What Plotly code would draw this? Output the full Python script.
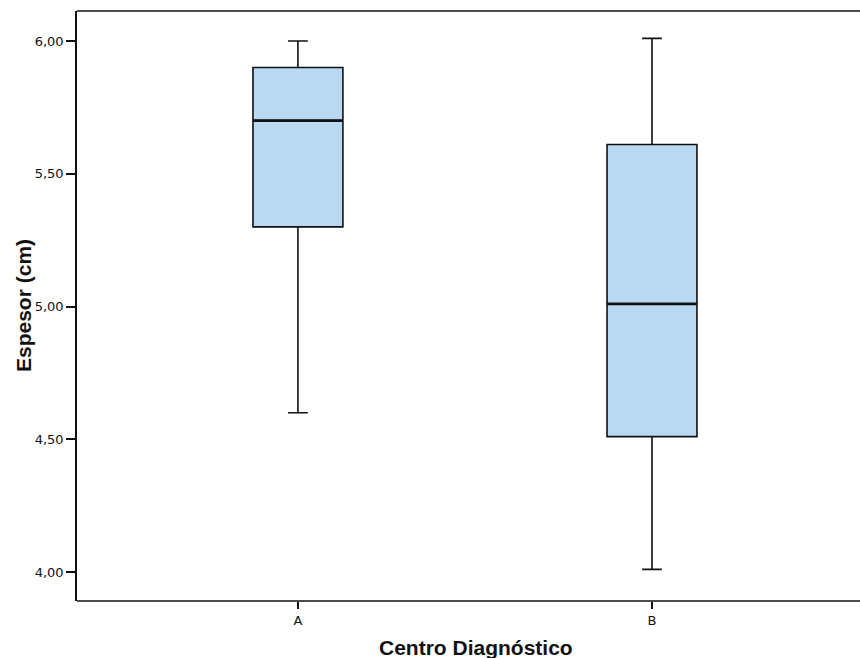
import plotly.graph_objects as go

categories = ["A", "B"]
q_min = [4.60, 4.01]
q1 = [5.30, 4.51]
median = [5.70, 5.01]
q3 = [5.90, 5.61]
q_max = [6.00, 6.01]

y_tickvals = [4.0, 4.5, 5.0, 5.5, 6.0]
y_ticktext = ["4,00", "4,50", "5,00", "5,50", "6,00"]

fig = go.Figure()
fig.add_trace(go.Box(
    x=categories,
    lowerfence=q_min,
    q1=q1,
    median=median,
    q3=q3,
    upperfence=q_max,
    fillcolor="#b9d8f1",
    line=dict(color="#111111", width=1.6),
    width=0.254,
    whiskerwidth=0.22,
    boxpoints=False,
    showlegend=False,
    hoverinfo="skip",
))
# thicker median line (zero-height box drawn at the median values)
fig.add_trace(go.Box(
    x=categories,
    lowerfence=median,
    q1=median,
    median=median,
    q3=median,
    upperfence=median,
    fillcolor="rgba(0,0,0,0)",
    line=dict(color="#111111", width=2.6),
    width=0.254,
    whiskerwidth=0,
    boxpoints=False,
    showlegend=False,
    hoverinfo="skip",
))

tick_family = "DejaVu Sans, Arial, sans-serif"
title_family = "Liberation Sans, Arial, sans-serif"

frame_line = dict(color="#111111", width=1.5)

fig.update_layout(
    width=860, height=658,
    margin=dict(l=77, r=20, t=11, b=57, pad=0),
    paper_bgcolor="white",
    plot_bgcolor="white",
    boxmode="overlay",
    font=dict(family=tick_family, color="#111111"),
    xaxis=dict(
        type="category",
        range=[-0.624, 1.531],
        showline=False,
        ticks="outside", ticklen=7, tickwidth=1.5, tickcolor="#111111",
        tickfont=dict(size=13, family=tick_family),
        showgrid=False, zeroline=False,
    ),
    yaxis=dict(
        range=[3.891, 6.113],
        tickvals=y_tickvals, ticktext=y_ticktext,
        showline=True, linecolor="#111111", linewidth=1.5, mirror=False,
        ticks="outside", ticklen=9, tickwidth=1.5, tickcolor="#111111",
        tickfont=dict(size=13, family=tick_family),
        showgrid=False, zeroline=False,
    ),
    shapes=[
        dict(type="line", xref="paper", yref="paper", x0=0, x1=1.03, y0=1, y1=1, line=frame_line),
        dict(type="line", xref="paper", yref="paper", x0=0, x1=1.03, y0=0, y1=0, line=frame_line),
    ],
    annotations=[
        dict(text="<b>Centro Diagnóstico</b>", xref="paper", yref="paper",
             x=0.523, y=0, yshift=-46, xanchor="center", yanchor="middle",
             showarrow=False, font=dict(size=21, family=title_family, color="#111111")),
        dict(text="<b>Espesor (cm)</b>", xref="paper", yref="paper",
             x=0, y=0.5, xshift=-54, xanchor="center", yanchor="middle", textangle=-90,
             showarrow=False, font=dict(size=21, family=title_family, color="#111111")),
    ],
)

fig.write_html("out.html", config={"displayModeBar": False})
